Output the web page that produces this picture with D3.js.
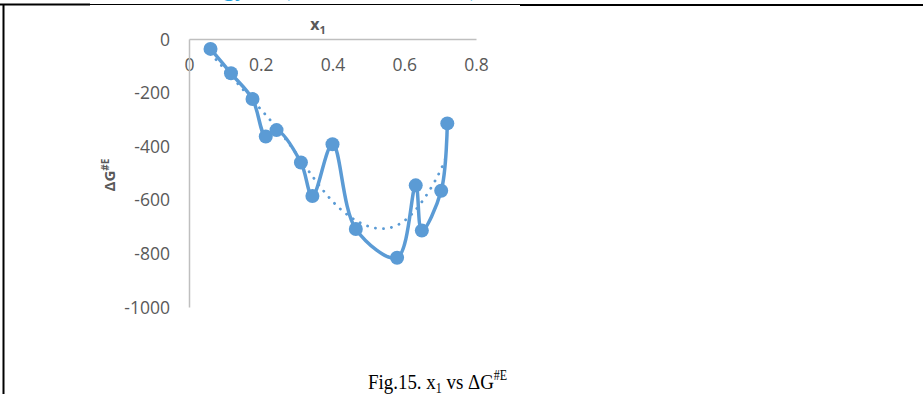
<!DOCTYPE html>
<html>
<head>
<meta charset="utf-8">
<script src="https://cdn.jsdelivr.net/npm/d3@7"></script>
<style>
  html,body{margin:0;padding:0;background:#fff;overflow:hidden}
</style>
</head>
<body>
<script>
// data (x1 mole fraction, excess free energy of activation)
const x1 = [0.06, 0.117, 0.177, 0.214, 0.244, 0.312, 0.344, 0.400, 0.465, 0.580, 0.632, 0.649, 0.703, 0.720]
const dG = [-37, -128, -224, -364, -340, -461, -586, -393, -709, -816, -546, -715, -566, -315]

// dotted trend line, as it shows on the picture
const trendX = [0.06, 0.10, 0.15, 0.20, 0.25, 0.30, 0.35, 0.40, 0.45, 0.50, 0.55, 0.60, 0.65, 0.70, 0.72]
const trendY = [-55, -112, -188, -262, -338, -428, -525, -610, -668, -703, -713, -687, -612, -500, -428]

const xTicks = [0, 0.2, 0.4, 0.6, 0.8]
const yTicks = [0, -200, -400, -600, -800, -1000]

const width = 923, height = 394
const blue = "#5B9BD5", grey = "#595959", axisGrey = "#BFBFBF"

const svg = d3.select("body").append("svg")
  .attr("width", width)
  .attr("height", height)
  .style("display","block")

// page frame bits (table border around the figure)
svg.append("line").attr("x1",0).attr("x2",90).attr("y1",4.5).attr("y2",4.5).attr("stroke","#000").attr("stroke-width",2)
svg.append("line").attr("x1",90).attr("x2",520).attr("y1",4.5).attr("y2",4.5).attr("stroke","#000").attr("stroke-width",1.2)
svg.append("line").attr("x1",520).attr("x2",width).attr("y1",5).attr("y2",5).attr("stroke","#000").attr("stroke-width",2)
svg.append("line").attr("x1",3.5).attr("x2",3.5).attr("y1",4).attr("y2",height).attr("stroke","#000").attr("stroke-width",2)

// clipped header text above the frame, only the descenders show (cut in the original too)
const hdr = svg.append("g").attr("fill","#1FA3E0").style("font-family","'Liberation Serif', serif").style("font-size","24px").style("font-weight","bold")
hdr.append("text").attr("x",247).attr("y",-4).attr("text-anchor","end").text("Technology")
hdr.append("text").attr("x",282).attr("y",-4).text("(")
hdr.append("text").attr("x",470).attr("y",-4).text(")")

const x = d3.scaleLinear().domain([0,0.8]).range([189,476])
const y = d3.scaleLinear().domain([-1000,0]).range([307,39])

// axes: x on top at y=0, y on the left
const axX = svg.append("g").attr("transform",`translate(0,${y(0)})`)
  .call(d3.axisBottom(x).tickValues(xTicks).tickSize(0).tickPadding(20).tickFormat(d=>d===0?"0":d3.format(".1f")(d)))
const axY = svg.append("g").attr("transform",`translate(${x(0)},0)`)
  .call(d3.axisLeft(y).tickValues(yTicks).tickSize(0).tickPadding(19).tickFormat(d=>String(d)))   // plain hyphen like excel

for (const ax of [axX, axY]){
  ax.select(".domain").attr("stroke",axisGrey).attr("stroke-width",1.5)
  ax.selectAll("text").attr("fill",grey).style("font-family","'Open Sans', sans-serif").style("font-size","17.5px")
}
axY.selectAll("text").attr("dy","0.35em")
// x ticks sit under the line, the line goes through the "0"
axX.select(".domain").raise()

// axis titles
const tx = svg.append("text").attr("x",318).attr("y",30).attr("text-anchor","middle")
  .attr("fill",grey).style("font-family","'Open Sans', sans-serif").style("font-weight","bold").style("font-size","16px")
tx.append("tspan").text("x")
tx.append("tspan").attr("dy",4).style("font-size","11px").text("1")

const ty = svg.append("text").attr("transform","translate(115,175) rotate(-90)").attr("text-anchor","middle")
  .attr("fill",grey).style("font-family","'Open Sans', sans-serif").style("font-weight","bold").style("font-size","15px")
ty.append("tspan").text("ΔG")
ty.append("tspan").attr("dy",-6).style("font-size","10px").text("#E")

// trend line (dotted)
const trend = trendX.map((d,i)=>({x:d,y:trendY[i]}))
svg.append("path").datum(trend)
  .attr("fill","none").attr("stroke",blue).attr("stroke-width",2.8)
  .attr("stroke-linecap","round").attr("stroke-dasharray","0.1 8")
  .attr("d", d3.line().x(d=>x(d.x)).y(d=>y(d.y)).curve(d3.curveBasis))

// smoothed data line + markers
const pts = x1.map((d,i)=>({x:d,y:dG[i]}))
svg.append("path").datum(pts)
  .attr("fill","none").attr("stroke",blue).attr("stroke-width",3.5).attr("stroke-linejoin","round")
  .attr("d", d3.line().x(d=>x(d.x)).y(d=>y(d.y)).curve(d3.curveCatmullRom.alpha(0.5)))

svg.append("g").selectAll("circle").data(pts).join("circle")
  .attr("cx",d=>x(d.x)).attr("cy",d=>y(d.y)).attr("r",7).attr("fill",blue)

// caption (narrow Times in the original)
const cap = svg.append("text").attr("transform","translate(368,389) scale(0.86,1)")
  .attr("fill","#000").style("font-family","'Liberation Serif', serif").style("font-size","22px")
cap.append("tspan").text("Fig.15. x")
cap.append("tspan").attr("dy",4).style("font-size","14px").text("1")
cap.append("tspan").attr("dy",-4).text(" vs ΔG")
cap.append("tspan").attr("dy",-9).style("font-size","14px").text("#E")
</script>
</body>
</html>
